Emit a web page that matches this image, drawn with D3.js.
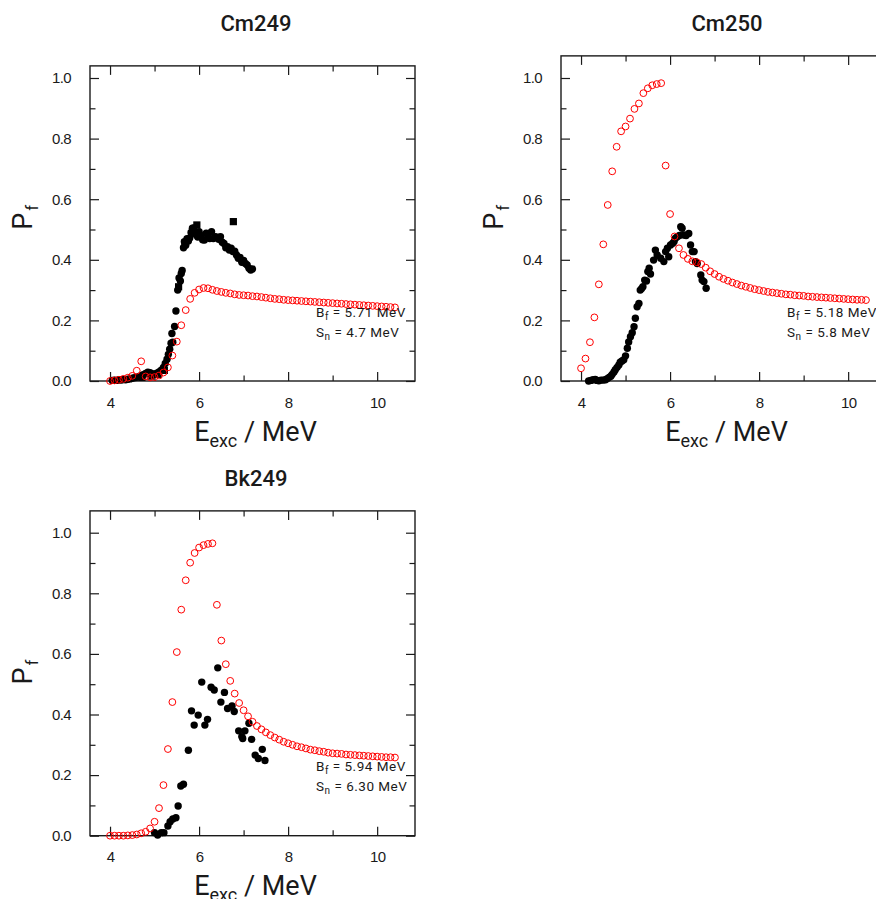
<!DOCTYPE html>
<html>
<head>
<meta charset="utf-8">
<script src="https://cdn.jsdelivr.net/npm/d3@7"></script>
<style>
  body { margin: 0; background: #fff; }
  svg { display: block; font-family: Roboto, "DejaVu Sans", sans-serif; }
</style>
</head>
<body>
<svg id="chart" width="876" height="899"></svg>
<script>
// ---------------- data ----------------
// Model energies (MeV), shared by the three calculated curves
const modelEnergies = [
  4.0,4.1,4.2,4.3,4.4,4.5,4.6,4.7,4.8,4.9,
  5.0,5.1,5.2,5.3,5.4,5.5,5.6,5.7,5.8,5.9,
  6.0,6.1,6.2,6.3,6.4,6.5,6.6,6.7,6.8,6.9,
  7.0,7.1,7.2,7.3,7.4,7.5,7.6,7.7,7.8,7.9,
  8.0,8.1,8.2,8.3,8.4,8.5,8.6,8.7,8.8,8.9,
  9.0,9.1,9.2,9.3,9.4,9.5,9.6,9.7,9.8,9.9,
  10.0,10.1,10.2,10.3,10.4
];

// Calculated fission probability, Cm249
const cm249Model = [
  0.000,0.002,0.004,0.007,0.011,0.017,0.034,0.065,0.015,0.012,
  0.013,0.018,0.028,0.045,0.084,0.130,0.184,0.234,0.271,0.291,
  0.302,0.307,0.306,0.301,0.297,0.294,0.291,0.289,0.286,0.284,
  0.283,0.282,0.280,0.279,0.277,0.275,0.273,0.271,0.270,0.268,
  0.267,0.266,0.265,0.264,0.263,0.262,0.261,0.260,0.259,0.258,
  0.257,0.256,0.255,0.254,0.253,0.252,0.251,0.250,0.249,0.248,
  0.247,0.246,0.245,0.244,0.243
];

// Calculated fission probability, Cm250
const cm250Model = [
  0.042,0.074,0.128,0.210,0.319,0.451,0.581,0.692,0.773,0.824,
  0.840,0.866,0.898,0.916,0.950,0.966,0.976,0.980,0.983,0.711,
  0.551,0.477,0.438,0.416,0.403,0.395,0.392,0.386,0.374,0.362,
  0.353,0.344,0.337,0.331,0.325,0.320,0.315,0.311,0.307,0.303,
  0.300,0.297,0.294,0.292,0.290,0.288,0.286,0.285,0.283,0.282,
  0.281,0.279,0.278,0.277,0.276,0.275,0.274,0.273,0.272,0.271,
  0.270,0.269,0.268,0.268,0.267
];

// Calculated fission probability, Bk249
const bk249Model = [
  0.000,0.000,0.000,0.000,0.001,0.002,0.004,0.008,0.013,0.024,
  0.046,0.091,0.167,0.286,0.441,0.606,0.746,0.843,0.901,0.933,
  0.951,0.959,0.963,0.965,0.762,0.644,0.566,0.511,0.469,0.438,
  0.414,0.394,0.376,0.362,0.351,0.341,0.332,0.324,0.317,0.310,
  0.305,0.300,0.295,0.292,0.288,0.284,0.282,0.279,0.277,0.274,
  0.272,0.271,0.270,0.268,0.267,0.266,0.265,0.264,0.263,0.262,
  0.261,0.260,0.259,0.259,0.258
];

// Measured Cm249 (filled circles)
const cm249ExpE = [
  4.05,4.10,4.15,4.20,4.25,4.30,4.35,4.40,4.45,4.50,
  4.55,4.60,4.65,4.70,4.75,4.80,4.85,4.90,4.95,5.00,
  5.05,5.10,5.15,5.20,5.24,5.28,5.31,5.34,5.37,5.39,
  5.41,5.45,5.48,5.52,5.55,5.58,5.60,5.62,5.65,5.67,
  5.70,5.73,5.76,5.79,5.82,5.85,5.88,5.91,5.94,5.97,
  6.00,6.04,6.08,6.12,6.16,6.20,6.24,6.28,6.32,6.36,
  6.40,6.44,6.48,6.52,6.56,6.60,6.64,6.68,6.72,6.76,
  6.80,6.84,6.88,6.92,6.96,7.00,7.04,7.08,7.12,7.16,
  7.20
];
const cm249ExpP = [
  0.002,0.003,0.002,0.004,0.003,0.005,0.004,0.006,0.007,0.009,
  0.011,0.012,0.015,0.018,0.021,0.025,0.029,0.027,0.024,0.022,
  0.026,0.030,0.036,0.045,0.058,0.072,0.088,0.105,0.125,0.157,
  0.128,0.180,0.231,0.300,0.340,0.330,0.355,0.365,0.440,0.460,
  0.448,0.470,0.462,0.472,0.490,0.504,0.505,0.492,0.482,0.475,
  0.493,0.480,0.466,0.465,0.488,0.478,0.470,0.493,0.470,0.476,
  0.475,0.468,0.476,0.458,0.454,0.440,0.443,0.432,0.438,0.427,
  0.428,0.416,0.405,0.408,0.392,0.398,0.388,0.383,0.372,0.366,
  0.370
];

// Measured Cm249 (filled squares)
const cm249SqE = [4.72,4.92,5.08,5.22,5.54,5.68,5.95,6.77];
const cm249SqP = [0.012,0.016,0.022,0.035,0.311,0.455,0.515,0.526];

// Measured Cm250 (filled circles)
const cm250ExpE = [
  4.17,4.22,4.27,4.32,4.36,4.40,4.45,4.50,4.55,4.59,
  4.63,4.67,4.70,4.74,4.77,4.81,4.85,4.88,4.92,4.96,
  5.00,5.04,5.07,5.11,5.15,5.19,5.22,5.26,5.30,5.33,
  5.36,5.39,5.43,5.47,5.50,5.53,5.56,5.63,5.67,5.71,
  5.79,5.86,5.90,5.94,5.97,6.01,6.06,6.09,6.12,6.16,
  6.21,6.24,6.27,6.31,6.36,6.42,6.46,6.50,6.54,6.57,
  6.61,6.69,6.72,6.76,6.81
];
const cm250ExpP = [
  0.000,0.002,0.004,0.005,0.002,0.001,0.003,0.003,0.004,0.008,
  0.012,0.016,0.022,0.030,0.037,0.045,0.053,0.062,0.066,0.070,
  0.083,0.108,0.129,0.146,0.159,0.179,0.207,0.245,0.256,0.300,
  0.305,0.311,0.333,0.330,0.361,0.372,0.353,0.399,0.432,0.416,
  0.405,0.394,0.427,0.438,0.410,0.449,0.455,0.460,0.471,0.476,
  0.480,0.509,0.504,0.482,0.480,0.487,0.449,0.427,0.427,0.394,
  0.388,0.350,0.333,0.328,0.306
];

// Measured Bk249 (filled circles)
const bk249ExpE = [
  5.00,5.07,5.15,5.21,5.30,5.35,5.41,5.48,5.53,5.59,
  5.65,5.76,5.83,5.89,5.98,6.06,6.13,6.19,6.27,6.34,
  6.42,6.49,6.57,6.64,6.74,6.79,6.89,6.96,6.98,7.03,
  7.12,7.18,7.26,7.33,7.42,7.48
];
const bk249ExpP = [
  0.010,0.002,0.010,0.010,0.032,0.046,0.055,0.059,0.098,0.164,
  0.170,0.282,0.412,0.365,0.398,0.507,0.365,0.384,0.490,0.481,
  0.554,0.441,0.473,0.420,0.428,0.410,0.346,0.327,0.321,0.346,
  0.371,0.318,0.266,0.255,0.285,0.248
];

// Axis ticks
const xMajorTicks = [4, 6, 8, 10];
const xMinorTicks = [5, 7, 9];
const yMajorTicks = [0.0, 0.2, 0.4, 0.6, 0.8, 1.0];
const yMinorTicks = [0.1, 0.3, 0.5, 0.7, 0.9];
const xDomain = [3.55, 10.85];

// ---------------- panels ----------------
const panels = [
  { title: "Cm249", left: 90, bottom: 381, yMax: 1.04, titleY: 31,
    model: cm249Model, expE: cm249ExpE, expP: cm249ExpP,
    sqE: cm249SqE, sqP: cm249SqP,
    bf: "5.71", sn: "4.7" },
  { title: "Cm250", left: 561, bottom: 381, yMax: 1.073, titleY: 31,
    model: cm250Model, expE: cm250ExpE, expP: cm250ExpP,
    sqE: [], sqP: [],
    bf: "5.18", sn: "5.8" },
  { title: "Bk249", left: 90, bottom: 835.7, yMax: 1.072, titleY: 486,
    model: bk249Model, expE: bk249ExpE, expP: bk249ExpP,
    sqE: [], sqP: [],
    bf: "5.94", sn: "6.30" }
];

const svg = d3.select("#chart");
const plotW = 325;
const unitH = 303;   // pixels for P = 0 .. 1
const ink = "#1a1a1a";

panels.forEach(p => {
  const top = p.bottom - p.yMax * unitH;
  const right = p.left + plotW;
  const x = d3.scaleLinear().domain(xDomain).range([p.left, right]);
  const y = d3.scaleLinear().domain([0, p.yMax]).range([p.bottom, top]);
  const g = svg.append("g");

  // frame
  g.append("rect")
    .attr("x", p.left).attr("y", top)
    .attr("width", plotW).attr("height", p.bottom - top)
    .attr("fill", "none").attr("stroke", ink).attr("stroke-width", 1.4);

  const styleAxis = sel => {
    sel.select(".domain").remove();
    sel.selectAll(".tick line").attr("stroke", ink).attr("stroke-width", 1.2);
    sel.selectAll(".tick text")
      .attr("fill", ink)
      .style("font-size", "15px")
      .style("letter-spacing", "-0.6px");
  };

  // bottom axis (labelled) + minor ticks
  g.append("g").attr("transform", `translate(0,${p.bottom})`)
    .call(d3.axisBottom(x).tickValues(xMajorTicks).tickSizeInner(-9)
      .tickSizeOuter(0).tickPadding(16).tickFormat(d3.format("d")))
    .call(styleAxis);
  g.append("g").attr("transform", `translate(0,${p.bottom})`)
    .call(d3.axisBottom(x).tickValues(xMinorTicks).tickSizeInner(-5.5)
      .tickSizeOuter(0).tickFormat(""))
    .call(styleAxis);
  // top axis
  g.append("g").attr("transform", `translate(0,${top})`)
    .call(d3.axisTop(x).tickValues(xMajorTicks).tickSizeInner(-9)
      .tickSizeOuter(0).tickFormat(""))
    .call(styleAxis);
  g.append("g").attr("transform", `translate(0,${top})`)
    .call(d3.axisTop(x).tickValues(xMinorTicks).tickSizeInner(-5.5)
      .tickSizeOuter(0).tickFormat(""))
    .call(styleAxis);
  // left axis (labelled)
  g.append("g").attr("transform", `translate(${p.left},0)`)
    .call(d3.axisLeft(y).tickValues(yMajorTicks).tickSizeInner(-9)
      .tickSizeOuter(0).tickPadding(19).tickFormat(d3.format(".1f")))
    .call(styleAxis);
  g.append("g").attr("transform", `translate(${p.left},0)`)
    .call(d3.axisLeft(y).tickValues(yMinorTicks).tickSizeInner(-5.5)
      .tickSizeOuter(0).tickFormat(""))
    .call(styleAxis);
  // right axis
  g.append("g").attr("transform", `translate(${right},0)`)
    .call(d3.axisRight(y).tickValues(yMajorTicks).tickSizeInner(-9)
      .tickSizeOuter(0).tickFormat(""))
    .call(styleAxis);
  g.append("g").attr("transform", `translate(${right},0)`)
    .call(d3.axisRight(y).tickValues(yMinorTicks).tickSizeInner(-5.5)
      .tickSizeOuter(0).tickFormat(""))
    .call(styleAxis);

  // measured points
  const expData = p.expE.map((e, i) => ({ e, v: p.expP[i] }));
  g.append("g").selectAll("circle").data(expData).join("circle")
    .attr("cx", d => x(d.e)).attr("cy", d => y(d.v)).attr("r", 3.7)
    .attr("fill", "#000");
  const sqData = p.sqE.map((e, i) => ({ e, v: p.sqP[i] }));
  g.append("g").selectAll("rect").data(sqData).join("rect")
    .attr("x", d => x(d.e) - 3.6).attr("y", d => y(d.v) - 3.6)
    .attr("width", 7.2).attr("height", 7.2).attr("fill", "#000");

  // calculated points
  const modelData = modelEnergies.map((e, i) => ({ e, v: p.model[i] }));
  g.append("g").selectAll("circle").data(modelData).join("circle")
    .attr("cx", d => x(d.e)).attr("cy", d => y(d.v)).attr("r", 3.4)
    .attr("fill", "none").attr("stroke", "#ff0000").attr("stroke-width", 1);

  // title
  g.append("text")
    .attr("x", p.left + plotW / 2 + 3.5).attr("y", p.titleY)
    .attr("text-anchor", "middle").attr("fill", ink)
    .style("font-size", "22px").style("font-weight", 500)
    .text(p.title);

  // y title
  const yt = g.append("text")
    .attr("transform", `translate(${p.left - 58},${y(0.54)}) rotate(-90)`)
    .attr("text-anchor", "middle").attr("fill", ink);
  yt.append("tspan").style("font-size", "27px").text("P");
  yt.append("tspan").style("font-size", "17px").attr("dy", 6).attr("dx", 2).text("f");

  // x title
  const xt = g.append("text")
    .attr("x", p.left + plotW / 2 + 3).attr("y", p.bottom + 59.7)
    .attr("text-anchor", "middle").attr("fill", ink);
  xt.append("tspan").style("font-size", "27px").text("E");
  xt.append("tspan").style("font-size", "18px").attr("dy", 6).text("exc");
  xt.append("tspan").style("font-size", "27px").attr("dy", -6).text(" / MeV");

  // barrier height and separation energy
  const note = (sym, sub, val, dy) => {
    const t = g.append("text")
      .attr("x", p.left + 226).attr("y", p.bottom - dy)
      .attr("fill", ink).style("font-size", "13.5px").style("letter-spacing", "0.5px");
    t.append("tspan").text(sym);
    t.append("tspan").style("font-size", "10px").attr("dy", 3).text(sub);
    t.append("tspan").attr("dy", -3).text(` = ${val} MeV`);
  };
  note("B", "f", p.bf, 64.3);
  note("S", "n", p.sn, 44.3);
});
</script>
</body>
</html>
